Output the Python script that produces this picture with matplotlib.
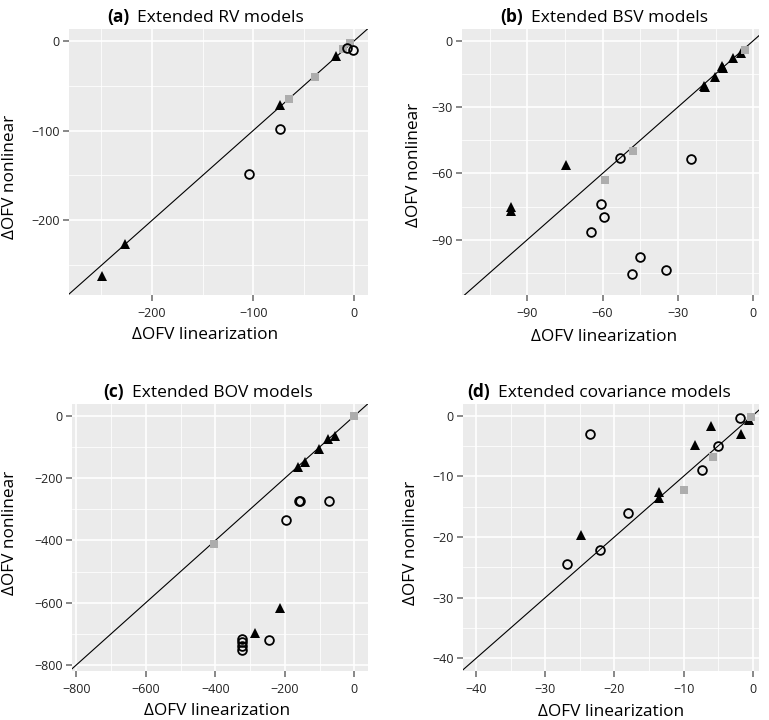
import numpy as np
import matplotlib
matplotlib.use("Agg")
import matplotlib.pyplot as plt
from matplotlib.ticker import MultipleLocator

plt.rcParams['font.family'] = ['Open Sans', 'DejaVu Sans']
plt.rcParams['axes.unicode_minus'] = True

# panel (a) extended RV models
a_circ_x = [-73.5, -104.6, -7.5, -1.0]
a_circ_y = [-98.5, -148.9, -8.5, -10.3]
a_tri_x = [-249.6, -227.0, -73.5, -18.3]
a_tri_y = [-261.4, -226.0, -71.4, -16.7]
a_sq_x = [-64.5, -39.3, -10.8, -4.2]
a_sq_y = [-65.0, -40.3, -9.6, -2.9]

# panel (b) extended BSV models
b_circ_x = [-52.9, -24.6, -60.7, -59.3, -64.5, -45.2, -48.1, -34.9]
b_circ_y = [-52.9, -53.7, -74.0, -79.5, -86.4, -97.7, -105.6, -103.8]
b_tri_x = [-96.4, -96.4, -74.4, -19.8, -19.2, -15.3, -12.6, -12.2, -8.0, -4.9]
b_tri_y = [-75.1, -76.9, -56.2, -20.6, -21.0, -16.3, -11.4, -12.3, -8.0, -5.7]
b_sq_x = [-3.3, -47.9, -59.0]
b_sq_y = [-4.2, -49.8, -63.0]

# panel (c) extended BOV models
c_circ_x = [-160, -157, -73.9, -196.6, -246.6, -323, -323, -323, -323]
c_circ_y = [-273, -273, -273, -335.5, -721, -715, -727, -739, -750]
c_tri_x = [-54.7, -75.7, -100.7, -141, -162, -215, -286.9]
c_tri_y = [-64.3, -75, -107, -147, -165, -618, -696.7]
c_sq_x = [0, -404.9]
c_sq_y = [0, -412.6]

# panel (d) extended covariance models
d_circ_x = [-23.5, -1.9, -5.05, -7.3, -18.0, -22.1, -26.9]
d_circ_y = [-3.0, -0.4, -5.1, -9.0, -16.0, -22.2, -24.4]
d_tri_x = [-6.0, -8.3, -1.7, -0.5, -13.5, -13.5, -24.9]
d_tri_y = [-1.8, -4.9, -3.1, -0.8, -12.6, -13.6, -19.7]
d_sq_x = [-0.3, -5.7, -10.0]
d_sq_y = [-0.2, -6.9, -12.3]

letters = ['(a)', '(b)', '(c)', '(d)']
titles = ['Extended RV models', 'Extended BSV models',
          'Extended BOV models', 'Extended covariance models']

fig = plt.figure(figsize=(7.69, 7.20), dpi=100)
W, H = 769.0, 720.0

def px_axes(l, t, r, b):
    return fig.add_axes([l / W, 1 - b / H, (r - l) / W, (b - t) / H])

panels = [
    dict(box=(69, 29, 368, 295), xlim=(-282, 13.5), ylim=(-283, 13),
         major=100, minor=50, data=(a_circ_x, a_circ_y, a_tri_x, a_tri_y, a_sq_x, a_sq_y),
         ylab=(-0.197, 0.444), xlab=(0.455, -0.122), tx=107, ty=22),
    dict(box=(462, 29, 759, 295), xlim=(-116, 2.3), ylim=(-115, 5.3),
         major=30, minor=15, data=(b_circ_x, b_circ_y, b_tri_x, b_tri_y, b_sq_x, b_sq_y),
         ylab=(-0.162, 0.489), xlab=(0.478, -0.128), tx=500, ty=22),
    dict(box=(72, 404, 368, 671), xlim=(-812, 39), ylim=(-819, 38),
         major=200, minor=100, data=(c_circ_x, c_circ_y, c_tri_x, c_tri_y, c_sq_x, c_sq_y),
         ylab=(-0.209, 0.517), xlab=(0.489, -0.118), tx=103, ty=397),
    dict(box=(463, 404, 759, 671), xlim=(-41.9, 0.9), ylim=(-42.1, 1.9),
         major=10, minor=5, data=(d_circ_x, d_circ_y, d_tri_x, d_tri_y, d_sq_x, d_sq_y),
         ylab=(-0.177, 0.479), xlab=(0.5, -0.122), tx=467, ty=397),
]

renderer = fig.canvas.get_renderer()

for i, p in enumerate(panels):
    ax = px_axes(*p['box'])
    ax.set_facecolor('#EBEBEB')
    for s in ax.spines.values():
        s.set_visible(False)
    ax.set_xlim(*p['xlim'])
    ax.set_ylim(*p['ylim'])
    for axis in (ax.xaxis, ax.yaxis):
        axis.set_major_locator(MultipleLocator(p['major']))
        axis.set_minor_locator(MultipleLocator(p['minor']))
    ax.grid(which='major', color='white', lw=1.2)
    ax.grid(which='minor', color='white', lw=0.55)
    ax.set_axisbelow(True)
    ax.tick_params(which='major', length=4.3, width=1.3, color='#7F7F7F',
                   labelsize=9, labelcolor='#222222')
    ax.tick_params(axis='x', which='major', pad=4.5)
    ax.tick_params(axis='y', which='major', pad=2.5)
    ax.tick_params(which='minor', length=0)

    cx, cy, tx, ty, sx, sy = p['data']
    ax.axline((0, 0), slope=1, color='black', lw=0.8, zorder=2)
    ax.plot(tx, ty, '^', color='black', ms=7.2, mew=0, ls='none', zorder=3)
    ax.plot(sx, sy, 's', color='#ADADAD', ms=6.0, mew=0, ls='none', zorder=4)
    ax.plot(cx, cy, 'o', mfc='none', mec='black', ms=6.3, mew=1.3, ls='none', zorder=5)

    ax.set_xlabel('ΔOFV linearization', fontsize=12.4, va='top')
    ax.set_ylabel('ΔOFV nonlinear', fontsize=12.4, va='center')
    ax.xaxis.set_label_coords(*p['xlab'])
    ax.yaxis.set_label_coords(*p['ylab'])

    t1 = fig.text(p['tx'] / W, 1 - p['ty'] / H, letters[i], fontsize=12.5,
                  fontweight='bold', ha='left', va='baseline')
    bb = t1.get_window_extent(renderer)
    fig.text((bb.x1 + 8) / W, 1 - p['ty'] / H, titles[i], fontsize=12.5,
             ha='left', va='baseline')

fig.savefig('out.png', dpi=100)
